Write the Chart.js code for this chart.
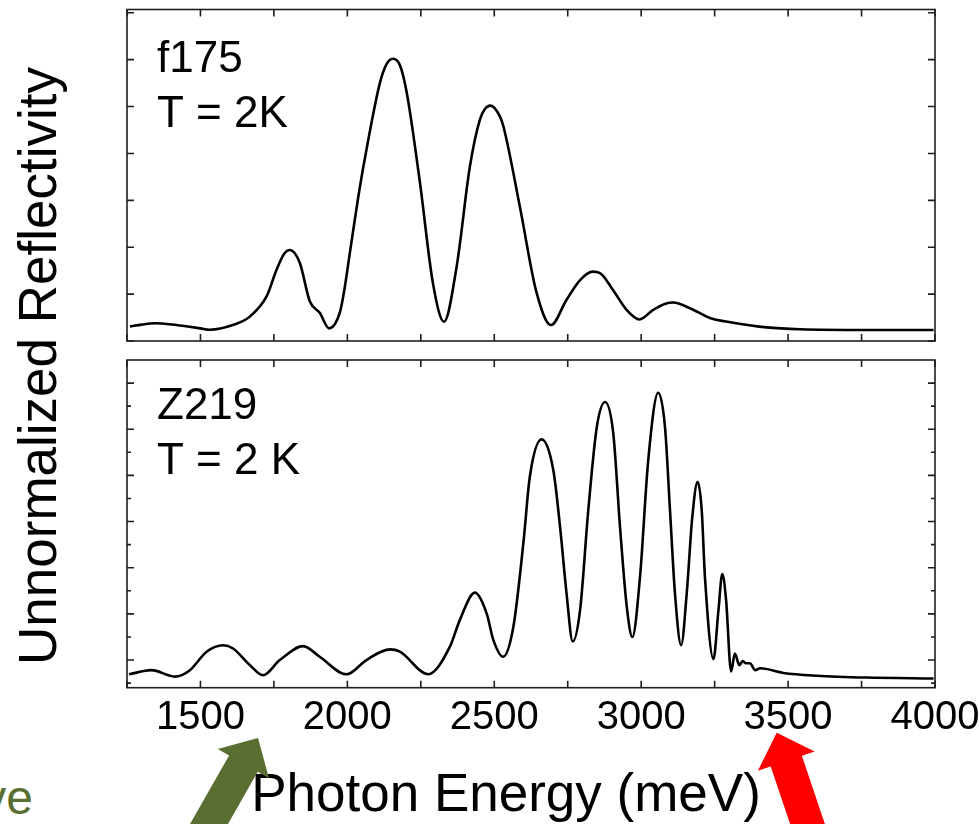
<!DOCTYPE html>
<html>
<head>
<meta charset="utf-8">
<script src="https://cdn.jsdelivr.net/npm/chart.js@4.4.1/dist/chart.umd.min.js"></script>
<style>
  html, body { margin: 0; padding: 0; background: #fff; }
  #page { position: relative; width: 980px; height: 824px; overflow: hidden; font-family: "Liberation Sans", Arial, sans-serif; color: #000; }
  .panel { position: absolute; left: 0; width: 980px; }
  #topPanel { top: 0; height: 352px; }
  #bottomPanel { top: 352px; height: 400px; }
  #yTitle { position: absolute; left: 36.6px; top: 366px; width: 720px; height: 53px; line-height: 53px; font-size: 53px; text-align: center; white-space: nowrap; transform: translate(-50%, -50%) rotate(-90deg); }
  #xTitle { position: absolute; left: 0; width: 1012px; top: 766px; height: 53px; line-height: 53px; font-size: 53px; text-align: center; white-space: nowrap; }
  #sideNote { position: absolute; left: -100px; width: 133px; top: 774px; height: 48px; line-height: 48px; font-size: 48px; text-align: right; color: #5a6e31; white-space: nowrap; }
  #arrows { position: absolute; left: 0; top: 0; pointer-events: none; }
</style>
</head>
<body>
<div id="page">
  <div class="panel" id="topPanel"><canvas id="f175Chart"></canvas></div>
  <div class="panel" id="bottomPanel"><canvas id="z219Chart"></canvas></div>
  <div id="yTitle">Unnormalized Reflectivity</div>
  <div id="xTitle">Photon Energy (meV)</div>
  <div id="sideNote">ve</div>
  <svg id="arrows" width="980" height="824">
    <polygon fill="#5a6e31" points="258,738 269,778.2 257.7,771.8 214.2,848.2 185.6,831.8 229.1,755.4 217.8,749"/>
    <polygon fill="#ff0000" points="776.7,732.7 814.7,751.5 801.9,755.8 828.5,834.7 797.3,845.3 770.7,766.4 757.9,770.7"/>
  </svg>
</div>
<script>
const energyTicks = [1250, 1500, 1750, 2000, 2250, 2500, 2750, 3000, 3250, 3500, 3750, 4000];

// sample f175, T = 2K
const f175Energy = [1260, 1300, 1345, 1418, 1500, 1532, 1610, 1668, 1725, 1759, 1785, 1804, 1838, 1872, 1906, 1938,
    1975, 1990, 2009, 2043, 2065, 2111, 2133, 2155, 2179, 2202, 2247, 2291, 2329, 2372, 2417, 2451, 2468, 2488,
    2519, 2531, 2587, 2644, 2693, 2746, 2792, 2835, 2860, 2904, 2951, 2994, 3040, 3080, 3109, 3166, 3234, 3313,
    3427, 3541, 3768, 3995];
const f175Refl = [0.31, 0.35, 0.38, 0.34, 0.27, 0.24, 0.34, 0.52, 0.95, 1.52, 1.86, 1.94, 1.67, 0.85, 0.60, 0.27,
    0.62, 1.10, 1.90, 3.30, 4.08, 5.51, 5.90, 6.02, 5.88, 5.30, 3.38, 1.24, 0.41, 1.59, 3.72, 4.72, 4.95, 5.02,
    4.79, 4.58, 2.87, 1.03, 0.34, 0.88, 1.30, 1.48, 1.45, 1.09, 0.66, 0.46, 0.66, 0.79, 0.82, 0.70, 0.49, 0.39,
    0.29, 0.25, 0.235, 0.235];
const f175Ticks = [0, 1, 2, 3, 4, 5, 6, 7];

// sample Z219, T = 2 K
const z219Energy = [1257, 1333, 1413, 1464, 1521, 1577, 1611, 1668, 1713, 1770, 1850, 1906, 1997, 2065, 2145, 2179,
    2275, 2349, 2383, 2434, 2474, 2497, 2530, 2565, 2599, 2621, 2661, 2701, 2724, 2746, 2767, 2792, 2820, 2849,
    2877, 2905, 2928, 2951, 2970, 2996, 3024, 3058, 3081, 3098, 3115, 3136, 3155, 3174, 3192, 3206, 3217, 3246,
    3263, 3276, 3289, 3306, 3319, 3334, 3346, 3356, 3370, 3388, 3405, 3484, 3598, 3768, 3995];
const z219Refl = [0.69, 0.78, 0.64, 0.78, 1.18, 1.32, 1.25, 0.89, 0.67, 1.00, 1.30, 1.07, 0.69, 1.00, 1.23, 1.18,
    0.69, 1.29, 1.87, 2.46, 2.01, 1.43, 1.07, 1.72, 3.53, 4.97, 5.78, 5.11, 3.88, 2.44, 1.40, 2.08, 4.25, 6.05,
    6.59, 5.91, 3.88, 2.15, 1.50, 2.80, 5.33, 6.79, 6.05, 4.25, 2.44, 1.32, 2.44, 4.10, 4.86, 4.25, 2.80, 1.02,
    2.08, 2.86, 2.30, 0.75, 1.14, 0.89, 0.98, 0.93, 0.93, 0.78, 0.82, 0.72, 0.66, 0.62, 0.60];
const z219Ticks = [0.5, 1, 1.5, 2, 2.5, 3, 3.5, 4, 4.5, 5, 5.5, 6, 6.5, 7];

const fontFamily = '"Liberation Sans", Arial, sans-serif';

// box around the plot with inward ticks on all four sides
const frameTicks = {
    id: 'frameTicks',
    afterDraw(chart, args, opts) {
        const { ctx, chartArea: { left, right, top, bottom }, scales: { x, y } } = chart;
        ctx.save();
        ctx.strokeStyle = '#1e1e1e';
        ctx.lineWidth = 1.6;
        ctx.beginPath();
        x.ticks.forEach(t => {
            const px = x.getPixelForValue(t.value);
            ctx.moveTo(px, bottom); ctx.lineTo(px, bottom - 7);
            ctx.moveTo(px, top); ctx.lineTo(px, top + 7);
        });
        y.ticks.forEach(t => {
            const py = y.getPixelForValue(t.value);
            const len = Number.isInteger(t.value / opts.majorStep) ? 7 : 4;
            ctx.moveTo(left, py); ctx.lineTo(left + len, py);
            ctx.moveTo(right, py); ctx.lineTo(right - len, py);
        });
        ctx.stroke();
        ctx.strokeRect(left, top, right - left, bottom - top);
        ctx.restore();
    }
};

// sample name and temperature in the upper left corner
const panelNotes = {
    id: 'panelNotes',
    afterDraw(chart, args, opts) {
        const { ctx, chartArea } = chart;
        ctx.save();
        ctx.font = `44px ${fontFamily}`;
        ctx.fillStyle = '#000';
        ctx.textBaseline = 'alphabetic';
        opts.lines.forEach((line, i) => {
            ctx.fillText(line, chartArea.left + 30, chartArea.top + opts.firstBaseline + i * 55);
        });
        ctx.restore();
    }
};

const makePanel = (canvasId, energy, refl, yMin, yMax, yTicks, majorStep, showEnergy, padding, notes, firstBaseline) => {
    return new Chart(document.getElementById(canvasId), {
        type: 'line',
        data: {
            datasets: [{
                data: energy.map((e, i) => ({ x: e, y: refl[i] })),
                borderColor: '#000',
                borderWidth: 2.6,
                pointRadius: 0,
                cubicInterpolationMode: 'monotone',
                fill: false
            }]
        },
        options: {
            responsive: true,
            maintainAspectRatio: false,
            animation: false,
            layout: { padding },
            plugins: {
                legend: { display: false },
                tooltip: { enabled: false },
                frameTicks: { majorStep },
                panelNotes: { lines: notes, firstBaseline }
            },
            scales: {
                x: {
                    type: 'linear',
                    min: 1250,
                    max: 4000,
                    afterBuildTicks: scale => { scale.ticks = energyTicks.map(v => ({ value: v })); },
                    // let the end labels hang past the frame, keep a fixed label band
                    afterFit: scale => {
                        scale.paddingLeft = 0;
                        scale.paddingRight = 0;
                        if (showEnergy) scale.height = 60;
                    },
                    grid: { display: false, drawTicks: false },
                    border: { display: false },
                    ticks: {
                        display: showEnergy,
                        autoSkip: false,
                        maxRotation: 0,
                        padding: 6,
                        color: '#000',
                        font: { family: fontFamily, size: 40 },
                        callback: v => (v % 500 === 0 ? String(v) : '')
                    }
                },
                y: {
                    type: 'linear',
                    min: yMin,
                    max: yMax,
                    afterBuildTicks: scale => { scale.ticks = yTicks.map(v => ({ value: v })); },
                    grid: { display: false, drawTicks: false },
                    border: { display: false },
                    ticks: { display: false }
                }
            }
        },
        plugins: [frameTicks, panelNotes]
    });
};

makePanel('f175Chart', f175Energy, f175Refl, 0, 7.07, f175Ticks, 1, false,
    { left: 127, right: 45, top: 9.5, bottom: 11 }, ['f175', 'T = 2K'], 62);

makePanel('z219Chart', z219Energy, z219Refl, 0.4, 7.5, z219Ticks, 1, true,
    { left: 127, right: 45, top: 8, bottom: 4.3 }, ['Z219', 'T = 2 K'], 59);
</script>
</body>
</html>
